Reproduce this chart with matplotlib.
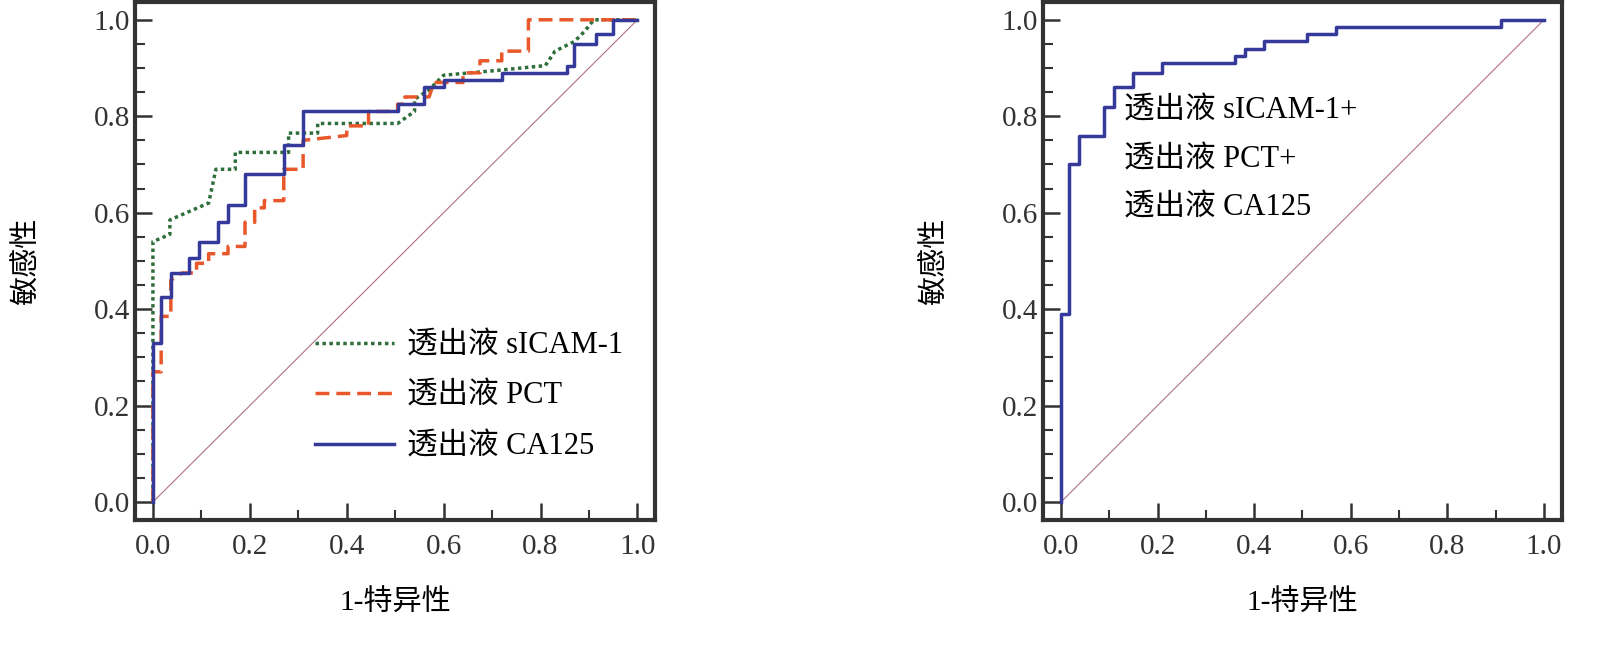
import matplotlib.pyplot as plt
from matplotlib.ticker import MultipleLocator

plt.rcParams['font.family'] = ['Liberation Serif', 'Noto Sans CJK SC']
plt.rcParams['axes.unicode_minus'] = False

# left panel: step ROC curves (x = 1-specificity, y = sensitivity)
sicam_x = [0, 0, 0.0, 0.035, 0.035, 0.115, 0.13, 0.17, 0.17, 0.28, 0.28, 0.34, 0.34, 0.505,
           0.54, 0.54, 0.57, 0.60, 0.60, 0.71, 0.81, 0.83, 0.87, 0.89, 0.91, 1.0]
sicam_y = [0, 0.35, 0.54, 0.555, 0.585, 0.62, 0.69, 0.69, 0.725, 0.725, 0.765, 0.765, 0.785, 0.785,
           0.81, 0.835, 0.855, 0.885, 0.885, 0.895, 0.905, 0.935, 0.955, 0.975, 1.0, 1.0]
pct_x = [0, 0, 0.017, 0.017, 0.037, 0.037, 0.06, 0.09, 0.09, 0.115, 0.115, 0.155, 0.155, 0.19,
         0.19, 0.21, 0.21, 0.23, 0.23, 0.27, 0.27, 0.31, 0.31, 0.40, 0.40, 0.445, 0.445, 0.505,
         0.505, 0.52, 0.52, 0.57, 0.58, 0.64, 0.64, 0.675, 0.675, 0.72, 0.72, 0.775, 0.775, 1.0]
pct_y = [0, 0.27, 0.27, 0.385, 0.385, 0.46, 0.475, 0.475, 0.495, 0.495, 0.515, 0.515, 0.53, 0.53,
         0.58, 0.58, 0.61, 0.61, 0.625, 0.625, 0.69, 0.69, 0.75, 0.76, 0.78, 0.78, 0.81, 0.81,
         0.825, 0.825, 0.84, 0.84, 0.87, 0.87, 0.89, 0.89, 0.915, 0.915, 0.935, 0.935, 1.0, 1.0]
ca_x = [0, 0, 0.017, 0.017, 0.037, 0.037, 0.075, 0.075, 0.095, 0.095, 0.135, 0.135, 0.155, 0.155,
        0.19, 0.19, 0.27, 0.27, 0.31, 0.31, 0.505, 0.505, 0.56, 0.56, 0.60, 0.60, 0.72, 0.72,
        0.855, 0.855, 0.87, 0.87, 0.915, 0.915, 0.95, 0.95, 1.0]
ca_y = [0, 0.33, 0.33, 0.425, 0.425, 0.475, 0.475, 0.505, 0.505, 0.54, 0.54, 0.58, 0.58, 0.615,
        0.615, 0.68, 0.68, 0.74, 0.74, 0.81, 0.81, 0.825, 0.825, 0.86, 0.86, 0.875, 0.875, 0.89,
        0.89, 0.905, 0.905, 0.95, 0.95, 0.97, 0.97, 1.0, 1.0]

# right panel: combined
comb_x = [0, 0, 0.017, 0.017, 0.037, 0.037, 0.09, 0.09, 0.11, 0.11, 0.15, 0.15, 0.21, 0.21, 0.36,
          0.36, 0.38, 0.38, 0.42, 0.42, 0.51, 0.51, 0.57, 0.57, 0.91, 0.91, 1.0]
comb_y = [0, 0.39, 0.39, 0.70, 0.70, 0.76, 0.76, 0.82, 0.82, 0.86, 0.86, 0.89, 0.89, 0.91, 0.91,
          0.925, 0.925, 0.94, 0.94, 0.955, 0.955, 0.97, 0.97, 0.985, 0.985, 1.0, 1.0]

labels = ['透出液 sICAM-1', '透出液 PCT', '透出液 CA125']
comb_lines = ['透出液 sICAM-1+', '透出液 PCT+', '透出液 CA125']

fig = plt.figure(figsize=(16.11, 6.49), dpi=100)
ax1 = fig.add_axes([0.0838, 0.199, 0.323, 0.798])
ax2 = fig.add_axes([0.6475, 0.199, 0.322, 0.798])

for ax in (ax1, ax2):
    ax.plot([0, 1], [0, 1], color='#b07080', lw=0.8)
    ax.set_xlim(-0.037, 1.037)
    ax.set_ylim(-0.037, 1.037)
    ax.xaxis.set_major_locator(MultipleLocator(0.2))
    ax.yaxis.set_major_locator(MultipleLocator(0.2))
    ax.xaxis.set_minor_locator(MultipleLocator(0.1))
    ax.yaxis.set_minor_locator(MultipleLocator(0.05))
    ax.xaxis.set_major_formatter(lambda v, p: f'{v:.1f}')
    ax.yaxis.set_major_formatter(lambda v, p: f'{v:.1f}')
    ax.tick_params(which='major', direction='in', length=12, width=1.8, labelsize=21, colors='#333333')
    ax.tick_params(which='minor', direction='in', length=7, width=1.5, colors='#333333')
    ax.tick_params(axis='x', pad=10)
    for s in ax.spines.values():
        s.set_linewidth(3)
        s.set_color('#333333')
    ax.set_xlabel('1-特异性', fontsize=21, labelpad=22)
    ax.set_ylabel('敏感性', fontsize=21, labelpad=38)

ax1.plot(sicam_x, sicam_y, color='#2e6e3a', lw=2.5, ls=(0, (1, 1)), label=labels[0])
ax1.plot(pct_x, pct_y, color='#e8582a', lw=2.5, ls=(0, (4, 2)), label=labels[1])
ax1.plot(ca_x, ca_y, color='#35399a', lw=2.5, label=labels[2])
ax1.legend(loc='lower right', bbox_to_anchor=(0.99, 0.06), frameon=False, fontsize=22,
           handlelength=2.6, labelspacing=0.7, handletextpad=0.4)

ax2.plot(comb_x, comb_y, color='#35399a', lw=2.5)
for i, t in enumerate(comb_lines):
    ax2.text(0.13, 0.81 - i * 0.1, t, transform=ax2.transData, fontsize=22, va='center')

fig.savefig('out.png', dpi=100)
